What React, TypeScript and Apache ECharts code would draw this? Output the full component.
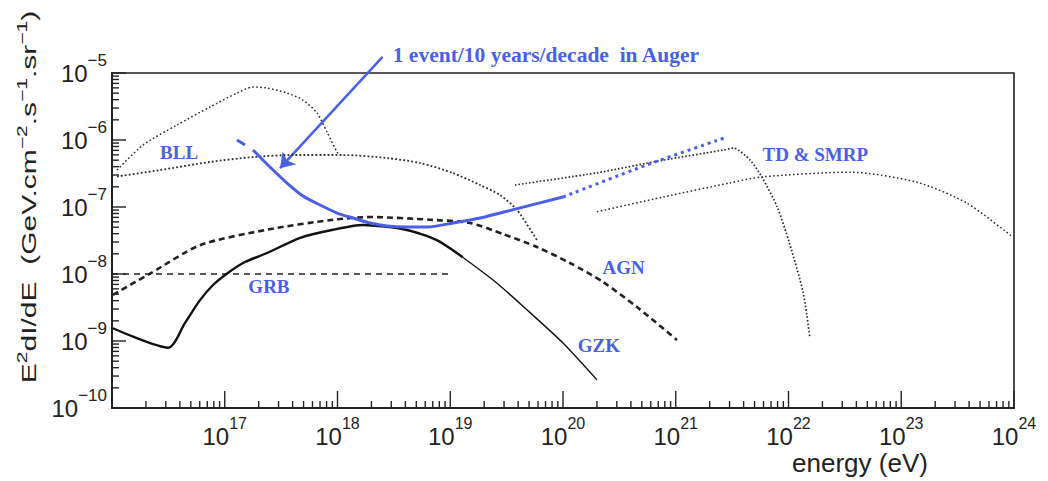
import React, { useEffect, useRef } from 'react';
import * as echarts from 'echarts';

// ---- axes ----
const X_MIN = 1e16;
const X_MAX = 1e24;
const Y_MIN = 1e-10;
const Y_MAX = 1e-5;
const X_DECADES = [16, 17, 18, 19, 20, 21, 22, 23, 24];
const Y_DECADES = [-10, -9, -8, -7, -6, -5];
const MINOR_STEPS = [2, 3, 4, 5, 6, 7, 8, 9];

// ---- series (energy eV, E^2 dI/dE) ----
const bllUpper: [number, number][] = [
  [1.107e16, 3.56e-7], [1.884e16, 8.41e-7], [3.767e16, 1.675e-6], [7.4e16, 3.11e-6],
  [1.285e17, 5.02e-6], [1.782e17, 6.18e-6], [2.371e17, 5.97e-6], [3.565e17, 5.02e-6],
  [4.94e17, 3.95e-6], [6.58e17, 2.53e-6], [8.07e17, 1.315e-6], [9.91e17, 6.62e-7],
  [1.052e18, 5.97e-7],
];
const bllLower: [number, number][] = [
  [1.107e16, 2.85e-7], [2.667e16, 3.56e-7], [7.4e16, 4.7e-7], [1.782e17, 5.57e-7],
  [4.03e17, 5.97e-7], [1.119e18, 5.97e-7], [2.748e18, 5.38e-7], [5.4e18, 4.54e-7],
  [1.057e19, 3.21e-7], [1.837e19, 2.13e-7], [2.76e19, 1.51e-7], [3.91e19, 9.02e-8],
  [5.87e19, 3.21e-8],
];
const tdSteep: [number, number][] = [
  [3.75e19, 2.13e-7], [2.0e20, 3.24e-7], [7.76e20, 5.01e-7], [2.63e21, 7.08e-7],
  [3.24e21, 7.59e-7], [4.57e21, 5.01e-7], [5.89e21, 2.69e-7], [7.94e21, 1.0e-7],
  [1.02e22, 2.88e-8], [1.35e22, 5.25e-9], [1.55e22, 1.1e-9],
];
const tdBroad: [number, number][] = [
  [2.0e20, 8.51e-8], [7.76e20, 1.41e-7], [3.02e21, 2.29e-7], [5.89e21, 2.82e-7],
  [3.55e22, 3.31e-7], [1.38e23, 2.34e-7], [3.8e23, 1.15e-7], [9.77e23, 3.55e-8],
];
const agn: [number, number][] = [
  [1.02e16, 4.9e-9], [2.19e16, 1.02e-8], [6.03e16, 2.69e-8], [2.34e17, 4.57e-8],
  [9.12e17, 6.46e-8], [2.0e18, 7.08e-8], [6.61e18, 6.46e-8], [1.496e19, 5.77e-8],
  [2.94e19, 3.95e-8], [5.87e19, 2.53e-8], [1.153e20, 1.459e-8], [2.265e20, 7.6e-9],
  [4.53e20, 3.21e-9], [1.026e21, 1.035e-9],
];
const grb: [number, number][] = [[1e16, 1e-8], [1e19, 1e-8]];
const gzk: [number, number][] = [
  [1.02e16, 1.55e-9], [3.16e16, 7.94e-10], [4.44e16, 1.86e-9], [6.03e16, 4.07e-9],
  [7.87e16, 6.85e-9], [1.05e17, 1.02e-8], [1.51e17, 1.51e-8], [2.34e17, 2.04e-8],
  [4.68e17, 3.47e-8], [9.12e17, 4.57e-8], [1.68e18, 5.38e-8], [4.13e18, 4.54e-8],
  [7.6e18, 3.2e-8], [1.29e19, 1.78e-8], [2.57e19, 7.41e-9], [5.13e19, 2.63e-9],
  [1.0e20, 9.33e-10], [2.0e20, 2.63e-10],
];
const GZK_THIN_FROM = 13; // index where the curve is drawn thinner
const augerSolid: ([number, number] | null)[] = [
  [1.285e17, 1.0e-6], [1.514e17, 8.41e-7], null,
  [1.782e17, 7.1e-7], [2.518e17, 3.95e-7], [3.565e17, 2.28e-7], [4.94e17, 1.46e-7],
  [7.0e17, 1.07e-7], [9.91e17, 8.13e-8], [1.371e18, 6.85e-8], [1.941e18, 5.77e-8],
  [2.748e18, 5.2e-8], [4.13e18, 5.02e-8], [6.22e18, 5.02e-8], [1.057e19, 5.77e-8],
  [1.837e19, 6.85e-8], [2.76e19, 8.13e-8], [1.0e20, 1.41e-7],
];
const augerDotted: [number, number][] = [
  [1.0e20, 1.41e-7], [5.37e20, 4.17e-7], [2.82e21, 1.1e-6],
];
const arrowCoords: [number, number][] = [[2.51e18, 1.74e-5], [3.09e17, 3.8e-7]];

// ---- annotations (anchor in data coordinates, left-middle) ----
const annotations = [
  { text: '1 event/10 years/decade  in Auger', x: 3.09e18, y: 1.86e-5, size: 21.5 },
  { text: 'BLL', x: 2.67e16, y: 6.6e-7, size: 19 },
  { text: 'TD & SMRP', x: 5.89e21, y: 6.0e-7, size: 19 },
  { text: 'AGN', x: 2.24e20, y: 1.23e-8, size: 19 },
  { text: 'GZK', x: 1.35e20, y: 8.5e-10, size: 19 },
  { text: 'GRB', x: 1.62e17, y: 6.46e-9, size: 19 },
];

const BLUE = '#4a5fe6';
const INK = '#222222';
const SANS = '"Liberation Sans", Arial, sans-serif';
const SERIF = '"Liberation Serif", "Times New Roman", serif';

const expOf = (v: number) => Math.round(Math.log10(v));

function tickValues(decades: number[]) {
  const out: { v: number; major: boolean }[] = [];
  decades.forEach((d, i) => {
    out.push({ v: Math.pow(10, d), major: true });
    if (i < decades.length - 1) MINOR_STEPS.forEach((m) => out.push({ v: m * Math.pow(10, d), major: false }));
  });
  return out;
}

const makeRich = (expSize: number) => ({
  b: { fontSize: 24, lineHeight: 42, fontFamily: SANS, color: INK, verticalAlign: 'middle' },
  s: { fontSize: expSize, lineHeight: 16, fontFamily: SANS, color: INK, verticalAlign: 'top' },
});

export default function App() {
  const ref = useRef<HTMLDivElement>(null);
  useEffect(() => {
    const chart = echarts.init(ref.current!, null, { renderer: 'svg' });
    const dotted = (data: any[], width = 1.6, dash = [1.6, 2.4]) => ({
      type: 'line', data, symbol: 'none', smooth: 0.25, silent: true,
      lineStyle: { color: '#2a2a2a', width, type: dash },
    });
    const xTickData = tickValues(X_DECADES).map((t) => [t.v, Y_MIN, t.major ? 17 : 7]);
    const yTickData = tickValues(Y_DECADES).map((t) => [X_MIN, t.v, t.major ? 14 : 7]);
    const option: any = {
      animation: false,
      backgroundColor: '#ffffff',
      grid: { left: 112, right: 34, top: 73, bottom: 73, show: true, borderColor: INK, borderWidth: 1.6, containLabel: false, outerBoundsMode: 'none' },
      xAxis: {
        type: 'log', logBase: 10, min: X_MIN, max: X_MAX, splitNumber: 8,
        axisLine: { show: true, lineStyle: { color: INK, width: 2 } },
        axisTick: { show: false },
        splitLine: { show: false },
        axisLabel: {
          margin: 7,
          formatter: (v: number) => { const e = expOf(v); return e === 16 ? '' : `{b|10}{s|${e}}`; },
          rich: makeRich(16),
        },
      },
      yAxis: {
        type: 'log', logBase: 10, min: Y_MIN, max: Y_MAX, splitNumber: 5,
        axisLine: { show: true, lineStyle: { color: INK, width: 2 } },
        axisTick: { show: false },
        splitLine: { show: false },
        axisLabel: {
          margin: 5,
          formatter: (v: number) => `{b|10}{s|\u2212${Math.abs(expOf(v))}}`,
          rich: makeRich(17),
        },
      },
      series: [
        dotted(bllUpper, 1.5),
        dotted(bllLower, 1.8, [1.8, 2.2]),
        dotted(tdSteep, 1.7, [1.6, 2]),
        dotted(tdBroad, 1.5, [1.6, 2.4]),
        { type: 'line', data: agn, symbol: 'none', smooth: 0.25, silent: true, lineStyle: { color: '#222', width: 2.6, type: [6, 4] } },
        { type: 'line', data: grb, symbol: 'none', silent: true, lineStyle: { color: '#222', width: 1.5, type: [6, 5] } },
        { type: 'line', data: gzk.slice(0, GZK_THIN_FROM + 1), symbol: 'none', smooth: 0.25, silent: true, lineStyle: { color: '#111', width: 2.4 } },
        { type: 'line', data: gzk.slice(GZK_THIN_FROM), symbol: 'none', smooth: 0.25, silent: true, lineStyle: { color: '#111', width: 1.4 } },
        { type: 'line', data: augerSolid, symbol: 'none', smooth: 0.25, connectNulls: false, silent: true, lineStyle: { color: BLUE, width: 3 } },
        { type: 'line', data: augerDotted, symbol: 'none', smooth: 0.25, silent: true, lineStyle: { color: BLUE, width: 3, type: [3, 4] } },
        {
          type: 'lines', coordinateSystem: 'cartesian2d', clip: false, silent: true,
          data: [{ coords: arrowCoords }],
          symbol: ['none', 'arrow'], symbolSize: [0, 14],
          lineStyle: { color: BLUE, width: 2.5, opacity: 1, curveness: 0 },
        },
        {
          type: 'custom', silent: true, z: 5, data: xTickData, encode: { x: 0, y: 1 },
          renderItem: (_p: any, api: any) => {
            const p = api.coord([api.value(0), api.value(1)]);
            return { type: 'line', shape: { x1: p[0], y1: p[1], x2: p[0], y2: p[1] - api.value(2) }, style: { stroke: INK, lineWidth: 1.4 } };
          },
        },
        {
          type: 'custom', silent: true, z: 5, data: yTickData, encode: { x: 0, y: 1 },
          renderItem: (_p: any, api: any) => {
            const p = api.coord([api.value(0), api.value(1)]);
            return { type: 'line', shape: { x1: p[0], y1: p[1], x2: p[0] + api.value(2), y2: p[1] }, style: { stroke: INK, lineWidth: 1.4 } };
          },
        },
      ],
    };
    chart.setOption(option);

    const graphics: any[] = annotations.map((a) => {
      const p = chart.convertToPixel({ gridIndex: 0 }, [a.x, a.y]) as number[];
      return {
        type: 'text', x: p[0], y: p[1], silent: true,
        style: { text: a.text, fill: BLUE, font: `bold ${a.size}px ${SERIF}`, align: 'left', verticalAlign: 'middle' },
      };
    });
    graphics.push({
      type: 'text', x: 29, y: 197, rotation: Math.PI / 2, scaleX: 1.5, silent: true,
      style: {
        text: '{b|E}{s|2}{b|dI/dE  (GeV.cm}{s|\u22122}{b|.s}{s|\u22121}{b|.sr}{s|\u22121}{b|)}',
        align: 'center', verticalAlign: 'middle',
        rich: {
          b: { fontSize: 20, lineHeight: 28, fontFamily: SANS, fill: INK, verticalAlign: 'middle' },
          s: { fontSize: 14, lineHeight: 15, fontFamily: SANS, fill: INK, verticalAlign: 'top' },
        },
      },
    });
    graphics.push({
      type: 'text', x: 860, y: 463, silent: true,
      style: { text: 'energy (eV)', fill: INK, font: `26px ${SANS}`, align: 'center', verticalAlign: 'middle' },
    });
    chart.setOption({ graphic: graphics });
    return () => chart.dispose();
  }, []);
  return <div ref={ref} style={{ position: 'fixed', left: 0, top: 0, width: 1048, height: 481 }} />;
}
